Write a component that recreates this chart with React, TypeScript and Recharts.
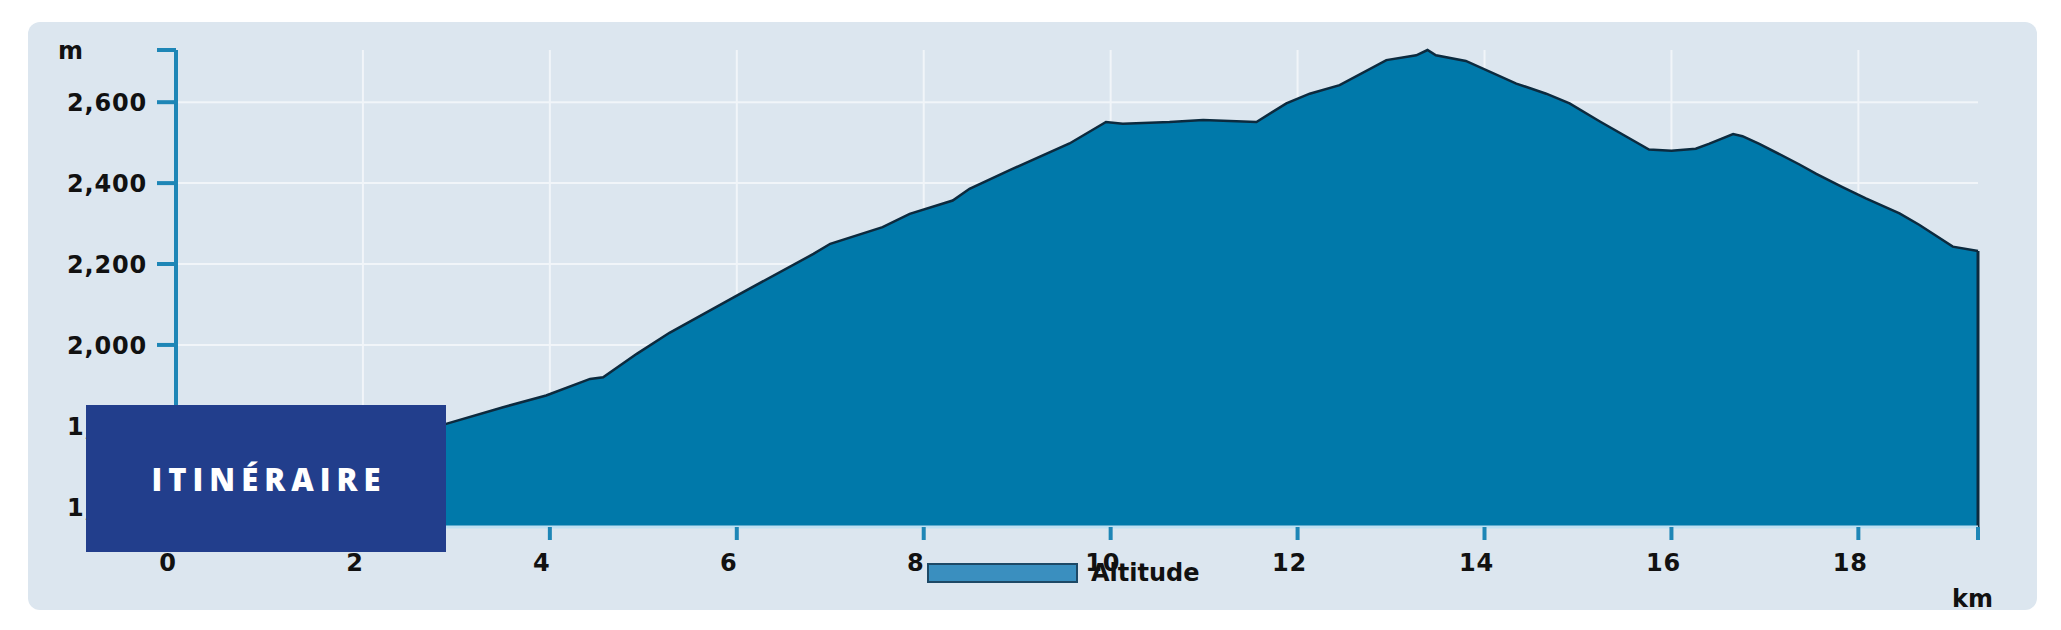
import { Area, AreaChart, CartesianGrid, Legend, ReferenceLine, XAxis, YAxis } from 'recharts';

// profile (km from start, altitude in m)
const DISTANCE_KM = [
  0, 1, 2, 2.89, 3.5, 3.96, 4.43, 4.57, 4.93, 5.28, 6.0, 6.82, 7.0, 7.56, 7.85, 8.31, 8.49,
  8.92, 9.56, 9.95, 10.13, 10.63, 10.99, 11.56, 11.88, 12.13, 12.45, 12.95, 13.27, 13.39,
  13.48, 13.8, 14.34, 14.66, 14.91, 15.23, 15.76, 16.0, 16.26, 16.4, 16.66, 16.76, 16.94,
  17.37, 17.55, 17.83, 18.08, 18.44, 18.65, 19.01, 19.28
];
const ALTITUDE_M = [
  1550, 1650, 1740, 1805, 1846, 1875, 1916, 1920, 1978, 2030, 2122, 2225, 2250, 2291, 2324,
  2357, 2386, 2432, 2498, 2551, 2547, 2551, 2556, 2551, 2597, 2621, 2642, 2704, 2716, 2729,
  2716, 2702, 2646, 2621, 2597, 2553, 2483, 2480, 2485, 2497, 2521, 2516, 2497, 2446, 2423,
  2390, 2362, 2325, 2297, 2243, 2232
];
const KM_TICKS = [0, 2, 4, 6, 8, 10, 12, 14, 16, 18];
const ALT_TICKS = [1600, 1800, 2000, 2200, 2400, 2600];
const GRID_KM = [2, 4, 6, 8, 10, 12, 14, 16, 18];

const data = DISTANCE_KM.map((km, i) => ({ km, alt: ALTITUDE_M[i] }));
const kmMax = DISTANCE_KM[DISTANCE_KM.length - 1];
const altMin = Math.min(...ALTITUDE_M);
const altMax = Math.max(...ALTITUDE_M);
const altLast = ALTITUDE_M[ALTITUDE_M.length - 1];

const AXIS_BLUE = '#1e86b6';
const FONT = '"DejaVu Sans", Verdana, sans-serif';
const labelStyle = { fontFamily: FONT, fontWeight: 700, fontSize: 24, letterSpacing: 0.8, fill: '#111' };

function KmTick({ x, y, payload }: any) {
  const v = payload.value;
  return (
    <g>
      <line x1={x} x2={x} y1={y - 13} y2={y} stroke={AXIS_BLUE} strokeWidth={4} />
      {Number.isInteger(v) && (
        <text x={x - 8} y={y + 31} textAnchor="middle" style={labelStyle}>
          {v}
        </text>
      )}
    </g>
  );
}

function AltTick({ x, y, payload }: any) {
  const v = payload.value;
  return (
    <g>
      <line x1={x + 10} x2={x + 29} y1={y} y2={y} stroke={AXIS_BLUE} strokeWidth={4} />
      {v % 200 === 0 && (
        <text x={x} y={y + 9} textAnchor="end" style={labelStyle}>
          {v.toLocaleString('en-US')}
        </text>
      )}
    </g>
  );
}

function LegendBox({ payload }: any) {
  const name = payload && payload[0] ? payload[0].value : 'Altitude';
  return (
    <div style={{ display: 'flex', alignItems: 'center' }}>
      <div style={{ width: 147, height: 16, background: '#3a8fbf', border: '2px solid #1d4966' }} />
      <span style={{ marginLeft: 13, fontFamily: FONT, fontWeight: 700, fontSize: 24, color: '#111' }}>
        {name}
      </span>
    </div>
  );
}

export default function App() {
  return (
    <div style={{ position: 'absolute', left: 0, top: 0, width: 2061, height: 630, background: '#fff' }}>
      <div
        style={{
          position: 'absolute',
          left: 28,
          top: 22,
          width: 2009,
          height: 588,
          background: '#dce6ef',
          borderRadius: 12
        }}
      />
      <div style={{ position: 'absolute', left: 0, top: 0 }}>
        <AreaChart width={2061} height={630} data={data} margin={{ top: 50, right: 83, bottom: 73, left: 76 }}>
          <CartesianGrid
            stroke="#f1f5f9"
            strokeWidth={2}
            horizontalValues={ALT_TICKS}
            verticalValues={GRID_KM}
          />
          <XAxis
            dataKey="km"
            type="number"
            domain={[0, 'dataMax']}
            ticks={[...KM_TICKS, kmMax]}
            interval={0}
            tick={<KmTick />}
            tickLine={false}
            tickSize={13}
            tickMargin={0}
            axisLine={{ stroke: '#bfe0f2', strokeWidth: 3 }}
          />
          <YAxis
            type="number"
            width={100}
            domain={['dataMin', 'dataMax']}
            ticks={[...ALT_TICKS, altMax]}
            interval={0}
            tick={<AltTick />}
            tickLine={false}
            tickSize={19}
            tickMargin={10}
            axisLine={{ stroke: AXIS_BLUE, strokeWidth: 4 }}
          />
          <Area
            type="linear"
            dataKey="alt"
            name="Altitude"
            fill="#0079aa"
            fillOpacity={1}
            stroke="#0c2a3e"
            strokeWidth={2.5}
            dot={false}
            activeDot={false}
            isAnimationActive={false}
          />
          <ReferenceLine
            segment={[
              { x: kmMax, y: altMin },
              { x: kmMax, y: altLast }
            ]}
            stroke="#0c2a3e"
            strokeWidth={3}
          />
          <Legend
            layout="horizontal"
            verticalAlign="middle"
            align="center"
            wrapperStyle={{ left: 927, top: 559, width: 320, height: 24 }}
            content={<LegendBox />}
          />
        </AreaChart>
      </div>
      <div style={{ position: 'absolute', left: 58, top: 37, fontFamily: FONT, fontWeight: 700, fontSize: 24, color: '#111' }}>
        m
      </div>
      <div style={{ position: 'absolute', left: 1952, top: 585, fontFamily: FONT, fontWeight: 700, fontSize: 24, color: '#111' }}>
        km
      </div>
      <div
        style={{
          position: 'absolute',
          left: 86,
          top: 405,
          width: 360,
          height: 147,
          background: '#223e8c',
          color: '#fff',
          display: 'flex',
          alignItems: 'center',
          justifyContent: 'center',
          fontFamily: '"Open Sans", sans-serif',
          fontWeight: 800,
          fontSize: 31,
          letterSpacing: 6,
          paddingLeft: 6,
          boxSizing: 'border-box'
        }}
      >
        ITINÉRAIRE
      </div>
    </div>
  );
}
